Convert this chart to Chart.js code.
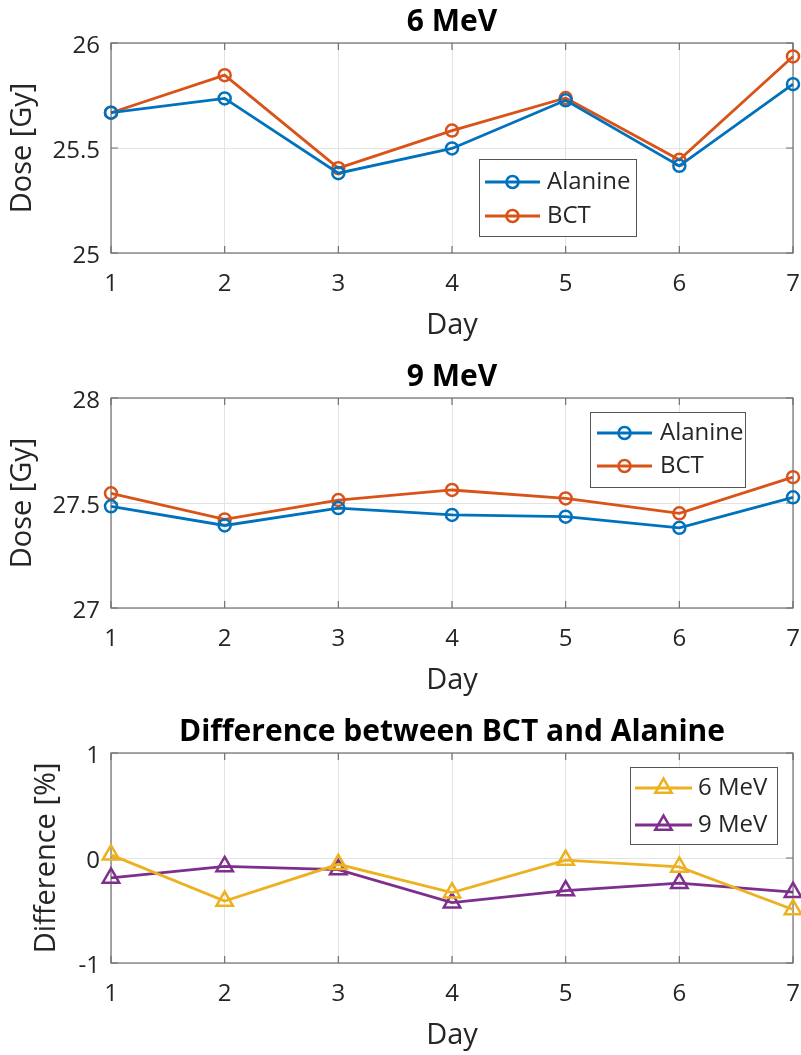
<!DOCTYPE html>
<html>
<head>
<meta charset="utf-8">
<script src="https://cdn.jsdelivr.net/npm/chart.js@4.4.1/dist/chart.umd.min.js"></script>
<style>
  html, body { margin: 0; padding: 0; background: #fff; overflow: hidden; }
  #fig { position: relative; width: 801px; height: 1055px; overflow: hidden; background: #fff; }
  #fig canvas { position: absolute; left: 0; }
</style>
</head>
<body>
<div id="fig">
  <canvas id="chart6" width="801" height="355" style="top:0px"></canvas>
  <canvas id="chart9" width="801" height="355" style="top:355px"></canvas>
  <canvas id="chartDiff" width="801" height="355" style="top:710px"></canvas>
</div>
<script>
// Measurement days
const days = ['1', '2', '3', '4', '5', '6', '7'];

// Dose readings at 6 MeV [Gy]
const alanine6MeV = [25.668, 25.736, 25.380, 25.498, 25.727, 25.415, 25.804];
const bct6MeV     = [25.668, 25.847, 25.404, 25.583, 25.738, 25.444, 25.936];

// Dose readings at 9 MeV [Gy]
const alanine9MeV = [27.484, 27.393, 27.476, 27.443, 27.435, 27.382, 27.527];
const bct9MeV     = [27.546, 27.422, 27.514, 27.562, 27.522, 27.451, 27.623];

// Relative difference between BCT and alanine [%]
const diff6MeV = [0.03, -0.41, -0.06, -0.33, -0.02, -0.085, -0.49];
const diff9MeV = [-0.19, -0.08, -0.11, -0.425, -0.31, -0.24, -0.325];

// Y tick values
const dose6Ticks = [25, 25.5, 26];
const dose9Ticks = [27, 27.5, 28];
const diffTicks  = [-1, 0, 1];

const FONT = "'Open Sans', 'Noto Sans', sans-serif";
const TEXT = '#262626';
const GRID = '#e3e3e3';
const AXIS = '#707070';
const BLUE = '#0072BD', ORANGE = '#D95319', YELLOW = '#EDB120', PURPLE = '#7E2F8E';

function drawMarker(ctx, style, x, y, r, bw, color) {
  ctx.save();
  ctx.strokeStyle = color;
  ctx.lineWidth = bw;
  ctx.beginPath();
  if (style === 'triangle') {
    for (let k = 0; k < 3; k++) {
      const a = k * 2 * Math.PI / 3;
      const px = x + Math.sin(a) * r, py = y - Math.cos(a) * r;
      if (k === 0) ctx.moveTo(px, py); else ctx.lineTo(px, py);
    }
    ctx.closePath();
  } else {
    ctx.arc(x, y, r, 0, Math.PI * 2);
  }
  ctx.stroke();
  ctx.restore();
}

// Boxed axes with inward tick marks on all four sides
const axesBox = {
  id: 'axesBox',
  beforeDatasetsDraw(chart) {
    const { ctx, chartArea: a, scales } = chart;
    const len = 7;
    ctx.save();
    ctx.strokeStyle = AXIS;
    ctx.lineWidth = 1.2;
    ctx.strokeRect(a.left, a.top, a.right - a.left, a.bottom - a.top);
    ctx.beginPath();
    scales.x.ticks.forEach((t, i) => {
      const px = scales.x.getPixelForTick(i);
      ctx.moveTo(px, a.bottom); ctx.lineTo(px, a.bottom - len);
      ctx.moveTo(px, a.top); ctx.lineTo(px, a.top + len);
    });
    scales.y.ticks.forEach((t, i) => {
      const py = scales.y.getPixelForTick(i);
      ctx.moveTo(a.left, py); ctx.lineTo(a.left + len, py);
      ctx.moveTo(a.right, py); ctx.lineTo(a.right - len, py);
    });
    ctx.stroke();
    ctx.restore();
  }
};

// Framed legend placed inside the plot area
const boxLegend = {
  id: 'boxLegend',
  afterDatasetsDraw(chart, args, opts) {
    const ctx = chart.ctx;
    ctx.save();
    ctx.fillStyle = '#fff';
    ctx.fillRect(opts.x, opts.y, opts.w, opts.h);
    ctx.strokeStyle = '#555';
    ctx.lineWidth = 1;
    ctx.strokeRect(opts.x + 0.5, opts.y + 0.5, opts.w, opts.h);
    chart.data.datasets.forEach((ds, i) => {
      const y = opts.y + opts.rows[i];
      const x0 = opts.x + opts.lineStart, x1 = x0 + opts.lineLen;
      ctx.strokeStyle = ds.borderColor;
      ctx.lineWidth = ds.borderWidth;
      ctx.beginPath(); ctx.moveTo(x0, y); ctx.lineTo(x1, y); ctx.stroke();
      drawMarker(ctx, ds.pointStyle, (x0 + x1) / 2, y, ds.pointRadius, ds.pointBorderWidth, ds.borderColor);
      ctx.fillStyle = TEXT;
      ctx.font = '24px ' + FONT;
      ctx.textAlign = 'left';
      ctx.textBaseline = 'middle';
      ctx.fillText(ds.label, x1 + opts.textGap, y);
    });
    ctx.restore();
  }
};

function makeChart(id, cfg) {
  const datasets = cfg.series.map(s => ({
    label: s.label,
    data: s.data,
    borderColor: s.color,
    backgroundColor: s.color,
    borderWidth: 2.8,
    pointStyle: s.marker,
    pointRadius: s.radius,
    pointBorderWidth: 2.5,
    pointBorderColor: s.color,
    pointBackgroundColor: 'rgba(0,0,0,0)',
    tension: 0,
    fill: false,
    clip: false
  }));
  return new Chart(document.getElementById(id), {
    type: 'line',
    data: { labels: days, datasets },
    options: {
      responsive: false,
      animation: false,
      devicePixelRatio: 1,
      layout: { padding: { left: 0, right: 8, top: 0, bottom: 0 }, autoPadding: false },
      plugins: {
        legend: { display: false },
        tooltip: { enabled: false },
        title: {
          display: true,
          text: cfg.title,
          fullSize: false,
          color: '#000',
          font: { family: FONT, size: 30, weight: 'bold' },
          padding: { top: 4.1, bottom: 2.9 }
        },
        boxLegend: cfg.legend
      },
      scales: {
        x: {
          type: 'category',
          offset: false,
          grid: { color: GRID, lineWidth: 1, drawTicks: false },
          border: { display: false },
          ticks: { color: TEXT, font: { family: FONT, size: 24 }, padding: 16.3, maxRotation: 0, autoSkip: false },
          title: { display: true, text: 'Day', color: TEXT, font: { family: FONT, size: 29 }, padding: { top: 0, bottom: 12 } },
          afterFit(s) { s.height = 102; s.paddingLeft = 0; s.paddingRight = 0; }
        },
        y: {
          min: cfg.yTicks[0],
          max: cfg.yTicks[cfg.yTicks.length - 1],
          grid: { color: GRID, lineWidth: 1, drawTicks: false },
          border: { display: false },
          ticks: { color: TEXT, font: { family: FONT, size: 24 }, padding: 11, labelOffset: 3.5, callback: v => String(v) },
          afterBuildTicks(s) { s.ticks = cfg.yTicks.map(v => ({ value: v })); },
          title: { display: true, text: cfg.yTitle, color: TEXT, font: { family: FONT, size: 29 }, padding: { top: cfg.yTitlePad, bottom: 0 } },
          afterFit(s) { s.width = 111; s.paddingTop = 0; s.paddingBottom = 0; }
        }
      }
    },
    plugins: [axesBox, boxLegend]
  });
}

makeChart('chart6', {
  title: '6 MeV',
  yTitle: 'Dose [Gy]',
  yTitlePad: 5,
  yTicks: dose6Ticks,
  series: [
    { label: 'Alanine', data: alanine6MeV, color: BLUE, marker: 'circle', radius: 6 },
    { label: 'BCT', data: bct6MeV, color: ORANGE, marker: 'circle', radius: 6 }
  ],
  legend: { x: 479, y: 159, w: 157, h: 77, rows: [23, 57], lineStart: 6, lineLen: 55, textGap: 7 }
});

makeChart('chart9', {
  title: '9 MeV',
  yTitle: 'Dose [Gy]',
  yTitlePad: 5,
  yTicks: dose9Ticks,
  series: [
    { label: 'Alanine', data: alanine9MeV, color: BLUE, marker: 'circle', radius: 6 },
    { label: 'BCT', data: bct9MeV, color: ORANGE, marker: 'circle', radius: 6 }
  ],
  legend: { x: 590, y: 57, w: 155, h: 75, rows: [21, 54], lineStart: 7, lineLen: 55, textGap: 8 }
});

makeChart('chartDiff', {
  title: 'Difference between BCT and Alanine',
  yTitle: 'Difference [%]',
  yTitlePad: 29,
  yTicks: diffTicks,
  series: [
    { label: '6 MeV', data: diff6MeV, color: YELLOW, marker: 'triangle', radius: 9.5 },
    { label: '9 MeV', data: diff9MeV, color: PURPLE, marker: 'triangle', radius: 9.5 }
  ],
  legend: { x: 630, y: 57, w: 147, h: 77, rows: [21, 58], lineStart: 5, lineLen: 57, textGap: 6 }
});
</script>
</body>
</html>
